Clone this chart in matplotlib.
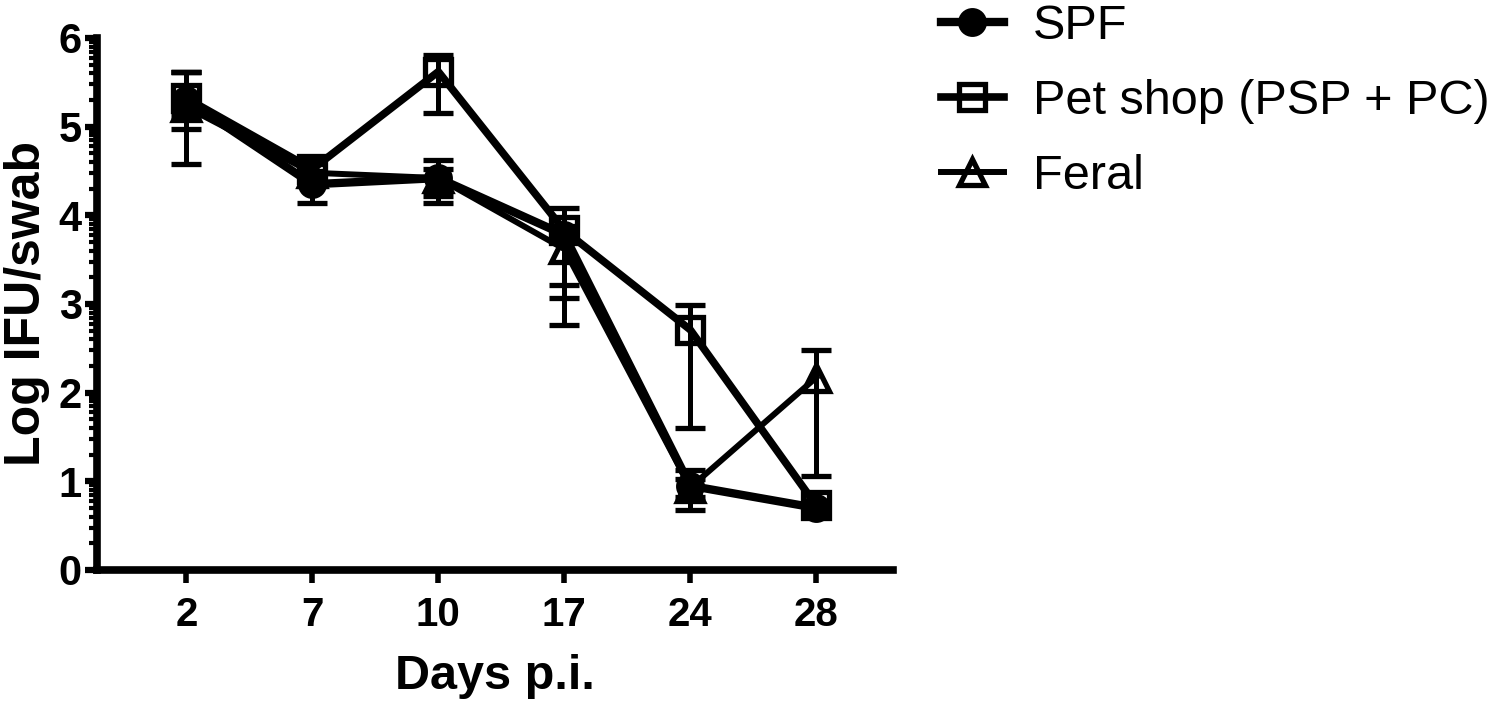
import numpy as np
import matplotlib
matplotlib.use("Agg")
import matplotlib.pyplot as plt
from matplotlib.lines import Line2D
from matplotlib.ticker import FixedLocator

# Data
days = ["2", "7", "10", "17", "24", "28"]

spf = [5.30, 4.35, 4.42, 3.78, 0.95, 0.70]
spf_lo = [0.33, 0.21, 0.20, 0.57, 0.13, 0.05]
spf_hi = [0.32, 0.15, 0.20, 0.10, 0.18, 0.05]

pet = [5.32, 4.52, 5.62, 3.83, 2.71, 0.73]
pet_lo = [0.20, 0.10, 0.47, 0.76, 1.11, 0.05]
pet_hi = [0.30, 0.12, 0.19, 0.25, 0.28, 0.05]

feral = [5.22, 4.48, 4.42, 3.62, 0.93, 2.17]
feral_lo = [0.64, 0.15, 0.28, 0.86, 0.25, 1.11]
feral_hi = [0.40, 0.10, 0.10, 0.10, 0.10, 0.31]

narrow = ["Liberation Sans Narrow", "Liberation Sans", "DejaVu Sans"]
plt.rcParams["font.family"] = ["Liberation Sans", "DejaVu Sans"]

fig = plt.figure(figsize=(15, 7.15), dpi=100)
ax = fig.add_axes([0.0647, 0.2028, 0.5306, 0.7441])

x = np.arange(len(days))
eb = dict(color="black", elinewidth=3.6, capsize=11, capthick=3.6, markeredgewidth=3.8)

ax.errorbar(x, spf, yerr=[spf_lo, spf_hi], fmt="-o", lw=6, ms=17,
            mfc="black", mec="black", zorder=3, **eb)
ax.errorbar(x, feral, yerr=[feral_lo, feral_hi], fmt="-^", lw=4.3, ms=19,
            mfc="none", mec="black", zorder=4, **eb)
ax.errorbar(x, pet, yerr=[pet_lo, pet_hi], fmt="-s", lw=5.5, ms=19,
            mfc="none", mec="black", zorder=5, **eb)

ax.set_xlim(-0.71, 5.61)
ax.set_ylim(0, 6)
ax.set_xticks(x)
ax.set_xticklabels(days, family=narrow, fontweight="bold", fontsize=29)
ax.set_yticks(range(7))
ax.set_yticklabels([str(v) for v in range(7)], fontweight="bold", fontsize=30)

minor = [d + np.log10(k) for d in range(6) for k in range(2, 10)]
ax.yaxis.set_minor_locator(FixedLocator(minor))

for s in ["top", "right"]:
    ax.spines[s].set_visible(False)
for s in ["left", "bottom"]:
    ax.spines[s].set_linewidth(5.5)

ax.tick_params(axis="y", which="major", length=9, width=4.5, direction="out", pad=2)
ax.tick_params(axis="y", which="minor", length=6, width=3, direction="out")
ax.tick_params(axis="x", which="major", length=9, width=4, direction="out", pad=10)

ax.set_xlabel("Days p.i.", family=narrow, fontweight="bold", fontsize=35, labelpad=14)
ax.set_ylabel("Log IFU/swab", fontweight="bold", fontsize=36, labelpad=6)

handles = [
    Line2D([], [], color="black", lw=6, marker="o", ms=17, mfc="black", mec="black", mew=3.8),
    Line2D([], [], color="black", lw=5.5, marker="s", ms=19, mfc="none", mec="black", mew=3.8),
    Line2D([], [], color="black", lw=4.3, marker="^", ms=19, mfc="none", mec="black", mew=3.8),
]
labels = ["SPF", "Pet shop (PSP + PC)", "Feral"]
fig.legend(handles, labels, loc="center left", bbox_to_anchor=(0.627, 0.858),
           frameon=False, fontsize=35, handlelength=1.3, handletextpad=0.6,
           labelspacing=0.62, borderpad=0, borderaxespad=0)

fig.savefig("out.png", dpi=100)
